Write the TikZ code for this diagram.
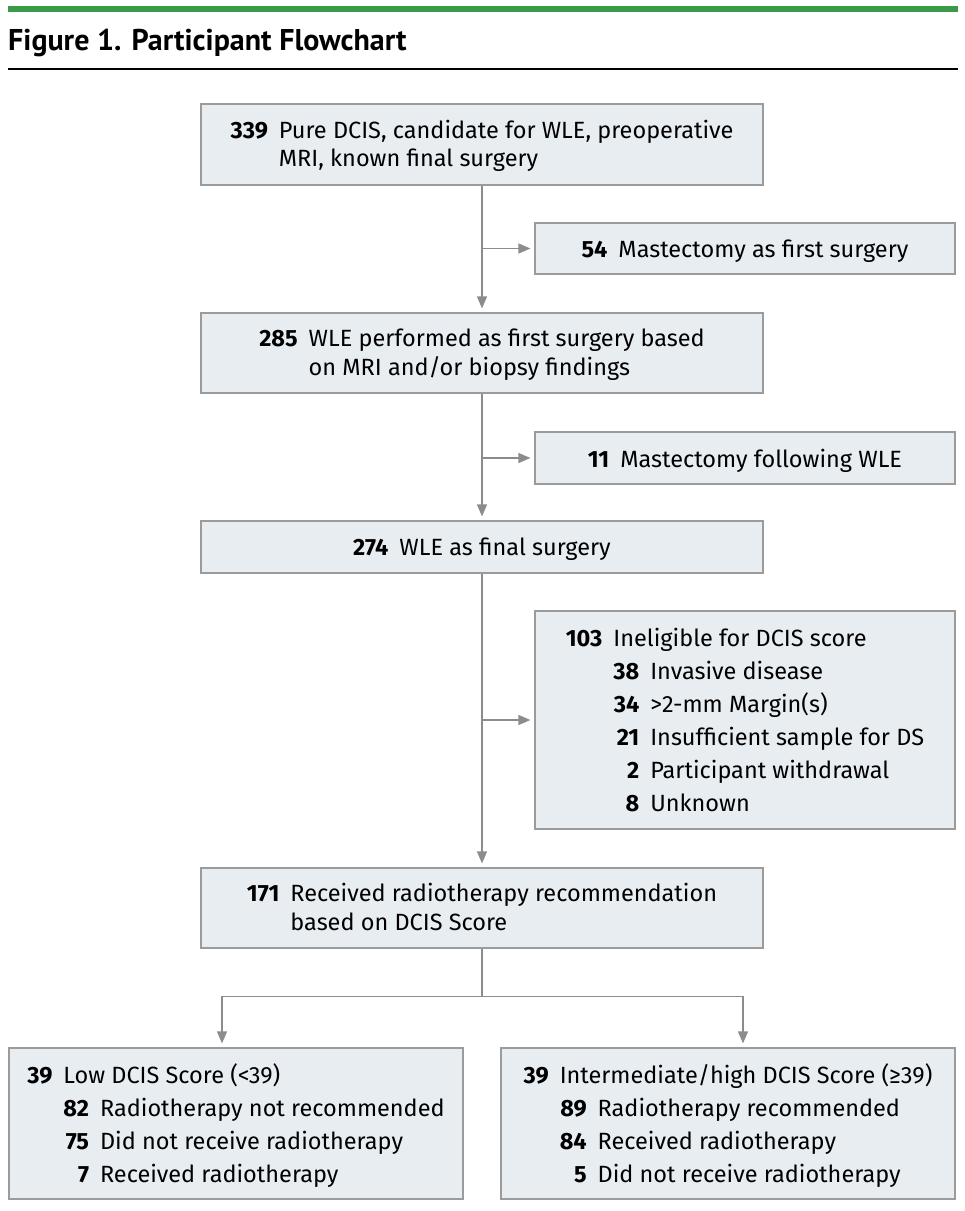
\documentclass[tikz,border=0pt]{standalone}
\usepackage{fontspec}
\setmainfont{Fira Sans}
\newfontfamily\titlefont{PT Sans}
\usetikzlibrary{arrows.meta}
\definecolor{boxfill}{HTML}{E8EDF2}
\definecolor{boxline}{HTML}{9B9B9B}
\definecolor{flowline}{HTML}{8C8C8C}
\definecolor{jamagreen}{HTML}{3A9A47}
\tikzset{
  box/.style={draw=boxline, fill=boxfill, line width=1.2pt, inner sep=0pt,
    align=center, font=\fontsize{23.5}{28.5}\selectfont},
  listbox/.style={box, font=\fontsize{23.5}{33}\selectfont},
  flow/.style={draw=flowline, line width=1.3pt},
  arr/.style={flow, -{Triangle[length=12pt,width=10pt]}, shorten >=4pt},
}
\newcommand{\num}[1]{\textbf{#1}}
\newcommand{\capmid}[1]{\raisebox{-2.5pt}[\height][\depth]{#1}}
\begin{document}
\begin{tikzpicture}[x=1pt,y=-1pt]
  \useasboundingbox (0,0) rectangle (965,1211);

  % Header
  \fill[jamagreen] (8,6) rectangle (958,12);
  \node[anchor=base west, inner sep=0pt, font=\titlefont\fontsize{30}{36}\selectfont\bfseries] (title) at (8,50) {Figure 1. Participant Flowchart};
  \draw[line width=2pt] (8,69) -- (958,69);

  % Main column
  \node[box, minimum width=562pt, minimum height=81pt] (pure) at (482,144.5)
    {\capmid{\begin{tabular}{@{}r@{\hspace{11pt}}l@{}}\num{339} & Pure DCIS, candidate for WLE, preoperative\\ & MRI, known final surgery\end{tabular}}};
  \node[box, minimum width=562pt, minimum height=80pt] (wle) at (482,353)
    {\capmid{\begin{tabular}{@{}r@{\hspace{11pt}}l@{}}\num{285} & WLE performed as first surgery based\\ & on MRI and/or biopsy findings\end{tabular}}};
  \node[box, minimum width=562pt, minimum height=52pt] (final) at (482,547)
    {\capmid{\num{274}\hspace{11pt}WLE as final surgery}};
  \node[box, minimum width=562pt, minimum height=80pt] (recom) at (482,908)
    {\capmid{\begin{tabular}{@{}r@{\hspace{11pt}}l@{}}\num{171} & Received radiotherapy recommendation\\ & based on DCIS Score\end{tabular}}};

  % Exclusions
  \node[box, minimum width=420pt, minimum height=51pt] (mast) at (745,248.5)
    {\capmid{\num{54}\hspace{11pt}Mastectomy as first surgery}};
  \node[box, minimum width=420pt, minimum height=52pt] (mastwle) at (745,458)
    {\capmid{\num{11}\hspace{11pt}Mastectomy following WLE}};
  \node[listbox, minimum width=420pt, minimum height=218pt] (inelig) at (745,720)
    {\capmid{\begin{tabular}{@{}r@{\hspace{11pt}}r@{\hspace{11pt}}l@{}}
      \num{103} & \multicolumn{2}{@{}l@{}}{Ineligible for DCIS score}\\
      & \num{38} & Invasive disease\\
      & \num{34} & >2-mm Margin(s)\\
      & \num{21} & Insufficient sample for DS\\
      & \num{2} & Participant withdrawal\\
      & \num{8} & Unknown
    \end{tabular}}};

  % Score groups
  \node[listbox, minimum width=454pt, minimum height=151pt] (low) at (236,1123.5)
    {\capmid{\begin{tabular}{@{}r@{\hspace{11pt}}r@{\hspace{11pt}}l@{}}
      \num{39} & \multicolumn{2}{@{}l@{}}{Low DCIS Score (<39)}\\
      & \num{82} & Radiotherapy not recommended\\
      & \num{75} & Did not receive radiotherapy\\
      & \num{7} & Received radiotherapy
    \end{tabular}}};
  \node[listbox, minimum width=454pt, minimum height=151pt] (high) at (728,1123.5)
    {\capmid{\begin{tabular}{@{}r@{\hspace{11pt}}r@{\hspace{11pt}}l@{}}
      \num{39} & \multicolumn{2}{@{}l@{}}{Intermediate/high DCIS Score (≥39)}\\
      & \num{89} & Radiotherapy recommended\\
      & \num{84} & Received radiotherapy\\
      & \num{5} & Did not receive radiotherapy
    \end{tabular}}};

  % Connectors
  \draw[arr] (pure) -- (wle);
  \draw[arr] (wle) -- (final);
  \draw[arr] (final) -- (recom);
  \draw[arr] (mast.west -| pure.south) -- (mast.west);
  \draw[arr] (mastwle.west -| wle.south) -- (mastwle.west);
  \draw[arr] (inelig.west -| final.south) -- (inelig.west);
  \draw[flow] (recom.south) -- ++(0,48) coordinate (split);
  \draw[arr] (split) -| ([xshift=-14pt]low.north);
  \draw[arr] (split) -| ([xshift=15pt]high.north);
\end{tikzpicture}
\end{document}
